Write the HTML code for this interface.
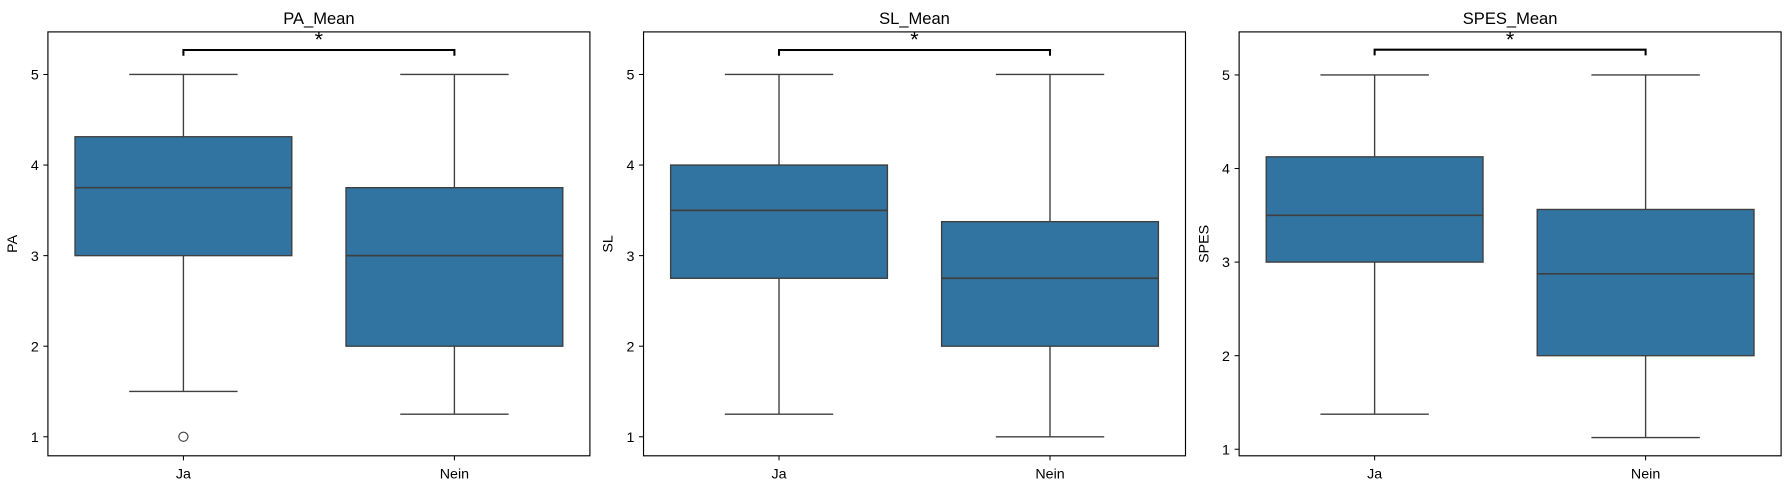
<!DOCTYPE html>
<html><head><meta charset="utf-8"><style>
body{margin:0;background:#fff;}
svg{display:block;font-family:"Liberation Sans","DejaVu Sans",sans-serif;}
</style></head><body>
<svg width="1789" height="490" viewBox="0 0 1789 490"><g id="chart" transform="scale(1.141,1.1395)"></g></svg>
<script>
const categories = ["Ja","Nein"];
const panelTitles = ["PA_Mean","SL_Mean","SPES_Mean"];
const yLabels = ["PA","SL","SPES"];
const yTicks = [1,2,3,4,5];
// [whiskerLow, q1, median, q3, whiskerHigh] per category
const paStats = [[1.5,3,3.75,4.3125,5],[1.25,2,3,3.75,5]];
const slStats = [[1.25,2.75,3.5,4,5],[1,2,2.75,3.375,5]];
const spesStats = [[1.375,3,3.5,4.125,5],[1.125,2,2.875,3.5625,5]];
const paOutliers = [[1],[]];
const slOutliers = [[],[]];
const spesOutliers = [[],[]];
const yLims = [[0.79,5.47],[0.79,5.47],[0.93,5.46]];
const bracketY = [5.27,5.27,5.27];

const NS="http://www.w3.org/2000/svg";
const svg=document.getElementById('chart');
function mk(tag,attrs,parent){const e=document.createElementNS(NS,tag);for(const k in attrs)e.setAttribute(k,attrs[k]);(parent||svg).appendChild(e);return e;}
const panelLeft=[42,564,1086], W=475, TOP=28, BOT=400;
const allStats=[paStats,slStats,spesStats], allOut=[paOutliers,slOutliers,spesOutliers];
for(let p=0;p<3;p++){
  const L=panelLeft[p];
  const g=mk('g',{});
  
  
  const [y0,y1]=yLims[p];
  const ys=v=>BOT-(v-y0)/(y1-y0)*(BOT-TOP);
  const xs=i=>L+(i+0.5)/2*W;
  const t=mk('text',{x:L+W/2,y:21,'text-anchor':'middle','font-size':'14.5',fill:'#000'},g);t.textContent=panelTitles[p];
  
  yTicks.forEach(v=>{
    mk('line',{x1:L-4,x2:L,y1:ys(v),y2:ys(v),stroke:'#000','stroke-width':0.9},g);
    const tl=mk('text',{x:L-8,y:ys(v)+4.5,'text-anchor':'end','font-size':'12.5',fill:'#000'},g);tl.textContent=v;
    
  });
  const yl=mk('text',{x:0,y:0,'text-anchor':'middle','font-size':'12.5',fill:'#000',transform:`translate(${L-27},${(TOP+BOT)/2}) rotate(-90)`},g);yl.textContent=yLabels[p];
  
  categories.forEach((c,i)=>{
    const x=xs(i);
    mk('line',{x1:x,x2:x,y1:BOT,y2:BOT+4,stroke:'#000','stroke-width':0.9},g);
    const xl=mk('text',{x:x,y:420,'text-anchor':'middle','font-size':'12.5',fill:'#000'},g);xl.textContent=c;
    
    const s=allStats[p][i];
    const bw=0.8*W/2, cw=0.4*W/2;
    const col='#3f3f3f';
    mk('line',{x1:x,x2:x,y1:ys(s[0]),y2:ys(s[1]),stroke:col,'stroke-width':1.2},g);
    mk('line',{x1:x,x2:x,y1:ys(s[3]),y2:ys(s[4]),stroke:col,'stroke-width':1.2},g);
    mk('line',{x1:x-cw/2,x2:x+cw/2,y1:ys(s[0]),y2:ys(s[0]),stroke:col,'stroke-width':1.2},g);
    mk('line',{x1:x-cw/2,x2:x+cw/2,y1:ys(s[4]),y2:ys(s[4]),stroke:col,'stroke-width':1.2},g);
    const b=mk('rect',{x:x-bw/2,y:ys(s[3]),width:bw,height:ys(s[1])-ys(s[3]),fill:'#3274a1',stroke:col,'stroke-width':1.2},g);
    
    mk('line',{x1:x-bw/2,x2:x+bw/2,y1:ys(s[2]),y2:ys(s[2]),stroke:col,'stroke-width':1.5},g);
    allOut[p][i].forEach(v=>{
      const o=mk('circle',{cx:x,cy:ys(v),r:4,fill:'none',stroke:col,'stroke-width':1},g);
      
    });
  });
  const by=ys(bracketY[p]);
  const br=mk('path',{d:`M${xs(0)} ${by+5}V${by}H${xs(1)}V${by+5}`,fill:'none',stroke:'#000','stroke-width':1.8},g);
  
  const st=mk('text',{x:L+W/2,y:by-3,'text-anchor':'middle','font-size':'19',fill:'#000'},g);st.textContent='*';
  
  mk('rect',{x:L,y:TOP,width:W,height:BOT-TOP,fill:'none',stroke:'#000','stroke-width':1},g);
}
</script>
</body></html>
